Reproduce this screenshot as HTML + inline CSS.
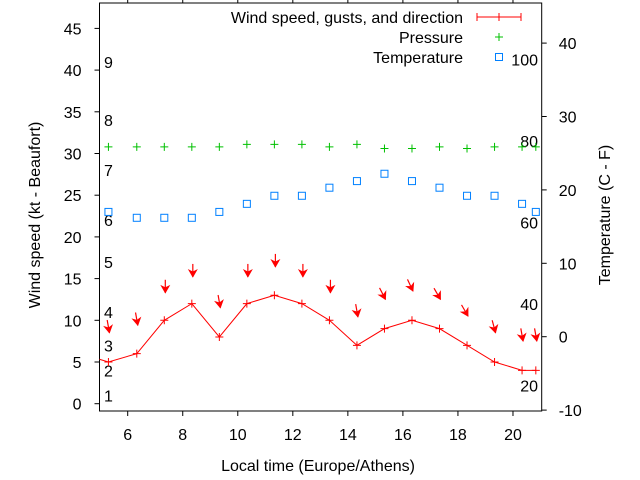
<!DOCTYPE html>
<html><head><meta charset="utf-8"><style>
body{margin:0;background:#fff}
svg{display:block;font-family:"Liberation Sans",sans-serif}
</style></head><body>
<svg id="chart" width="640" height="480" viewBox="0 0 640 480" xmlns="http://www.w3.org/2000/svg">
<defs><clipPath id="clip"><rect x="99.5" y="3" width="442.2" height="408"/></clipPath></defs>
<g id="axes"></g>
<g id="plot" clip-path="url(#clip)"></g>
<g id="legend"></g>
</svg>
<script>
const times = [4.3,5.3,6.33,7.33,8.33,9.33,10.33,11.33,12.33,13.33,14.33,15.33,16.33,17.33,18.33,19.33,20.33,20.83];
const windSpeed = [6,5,6,10,12,8,12,13,12,10,7,9,10,9,7,5,4,4];
const gusts = [9,8.5,9.4,13.3,15.2,11.5,15.2,16.4,15.2,13.3,10.4,12.5,13.5,12.5,10.5,8.5,7.5,7.5];
const windDir = [350,350,350,0,0,350,0,0,0,0,350,333,335,330,330,345,350,350];
const pressure = [30.8,30.8,30.8,30.8,30.8,30.8,31.1,31.1,31.1,30.8,31.1,30.6,30.6,30.8,30.6,30.8,30.8,30.8];
const temperature = [17,17,16.2,16.2,16.2,17,18.1,19.2,19.2,20.3,21.2,22.2,21.2,20.3,19.2,19.2,18.1,17];
const xTicks = [6,8,10,12,14,16,18,20];
const yLeftTicks = [0,5,10,15,20,25,30,35,40,45];
const yRightTicks = [-10,0,10,20,30,40];
const beaufort = [1,2,3,4,5,6,7,8,9];
const beaufortKt = [1,4,7,11,17,22,28,34,41];
const fahrenheit = [20,40,60,80,100];

const NS="http://www.w3.org/2000/svg";
const L=99.5,R=541.7,T=3,B=411,FS=16;
const x=t=>127.7+(t-6)*27.52;
const yL=v=>403.7-v*8.34;
const yR=c=>336.7-c*7.34;
function mk(tag,attrs,parent,text){const e=document.createElementNS(NS,tag);for(const k in attrs)e.setAttribute(k,attrs[k]);if(text!==undefined)e.textContent=text;parent.appendChild(e);return e;}
const axes=document.getElementById('axes'),plot=document.getElementById('plot'),leg=document.getElementById('legend');

let fr=mk('rect',{x:L,y:T,width:R-L,height:B-T,fill:'none',stroke:'#000','stroke-width':1},axes);

xTicks.forEach(t=>{
  let g=mk('g',{},axes);
  
  
  mk('line',{x1:x(t),x2:x(t),y1:B,y2:B+5,stroke:'#000'},g);
  mk('line',{x1:x(t),x2:x(t),y1:T,y2:T-5,stroke:'#000'},g);
  mk('text',{x:x(t),y:B+29,'text-anchor':'middle','font-size':FS},g,t);
});
yLeftTicks.forEach(v=>{
  let g=mk('g',{},axes);
  
  
  mk('line',{x1:L-5,x2:L,y1:yL(v),y2:yL(v),stroke:'#000'},g);
  mk('text',{x:L-18,y:yL(v)+6,'text-anchor':'end','font-size':FS},g,v);
});
yRightTicks.forEach(v=>{
  let g=mk('g',{},axes);
  
  
  mk('line',{x1:R,x2:R+5,y1:yR(v),y2:yR(v),stroke:'#000'},g);
  mk('text',{x:R+17,y:yR(v)+6,'font-size':FS},g,v);
});
let t1=mk('text',{x:40,y:215,'text-anchor':'middle','font-size':FS,transform:'rotate(-90 40 215)'},axes,'Wind speed (kt - Beaufort)');

let t2=mk('text',{x:610,y:215,'text-anchor':'middle','font-size':FS,transform:'rotate(-90 610 215)'},axes,'Temperature (C - F)');

let t3=mk('text',{x:318,y:471,'text-anchor':'middle','font-size':FS},axes,'Local time (Europe/Athens)');


beaufort.forEach((b,i)=>{
  let e=mk('text',{x:104,y:yL(beaufortKt[i])+6,'font-size':FS},plot,b);
  
  
});
fahrenheit.forEach(f=>{
  let e=mk('text',{x:538,y:yR((f-32)*5/9)+6,'text-anchor':'end','font-size':FS},plot,f);
  
  
});

let pl=mk('polyline',{points:times.map((t,i)=>x(t)+','+yL(windSpeed[i])).join(' '),fill:'none',stroke:'#f00','stroke-width':1},plot);

times.forEach((t,i)=>{
  const cx=x(t),cy=yL(windSpeed[i]);
  let p=mk('path',{d:`M${cx-4},${cy}H${cx+4}M${cx},${cy-4}V${cy+4}`,stroke:'#f00','stroke-width':1},plot);
  
  
  const hx=x(t)+1,hy=yL(gusts[i]);
  const a=windDir[i]*Math.PI/180,dx=-Math.sin(a),dy=Math.cos(a),len=13;
  const tx=hx-dx*len,ty=hy-dy*len;
  const px=-dy,py=dx;
  let g=mk('g',{},plot);
  
  
  mk('line',{x1:tx,y1:ty,x2:hx,y2:hy,stroke:'#f00','stroke-width':1.2},g);
  mk('polygon',{points:`${hx},${hy} ${hx-dx*7+px*4},${hy-dy*7+py*4} ${hx-dx*5},${hy-dy*5} ${hx-dx*7-px*4},${hy-dy*7-py*4}`,fill:'#f00',stroke:'#f00','stroke-width':0.8},g);
  const qx=x(t),qy=yL(pressure[i]);
  let q=mk('path',{d:`M${qx-4},${qy}H${qx+4}M${qx},${qy-4}V${qy+4}`,stroke:'#00c000','stroke-width':1},plot);
  
  
  let s=mk('rect',{x:x(t)-3.5,y:yR(temperature[i])-3.5,width:7,height:7,fill:'none',stroke:'#0080ff','stroke-width':1},plot);
  
  
});

let e1=mk('g',{},leg);
mk('text',{x:463,y:23,'text-anchor':'end','font-size':FS},e1,'Wind speed, gusts, and direction');
mk('path',{d:'M477,17H521M477,13V21M499,13V21M521,13V21',stroke:'#f00'},e1);
let e2=mk('g',{},leg);
mk('text',{x:463,y:43,'text-anchor':'end','font-size':FS},e2,'Pressure');
mk('path',{d:'M495,37H503M499,33V41',stroke:'#00c000'},e2);
let e3=mk('g',{},leg);
mk('text',{x:463,y:63,'text-anchor':'end','font-size':FS},e3,'Temperature');
mk('rect',{x:495.5,y:53.5,width:7,height:7,fill:'none',stroke:'#0080ff'},e3);
</script>
</body></html>
